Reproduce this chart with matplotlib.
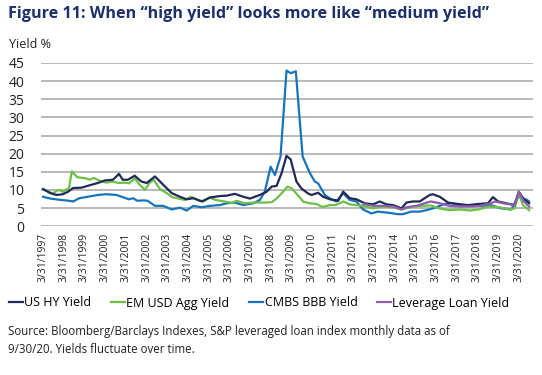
import matplotlib
matplotlib.use("Agg")
from matplotlib import pyplot as plt

plt.rcParams['font.family'] = ['Open Sans', 'DejaVu Sans']

# decimal-year positions and yields (%)
hy_x = [1997.25, 1997.6, 1997.9, 1998.2, 1998.46, 1998.7, 1999.1, 1999.58, 1999.9, 2000.23,
        2000.63, 2000.92, 2001.1, 2001.35, 2001.68, 2002.0, 2002.26, 2002.66, 2003.06, 2003.47,
        2003.87, 2004.19, 2004.51, 2004.92, 2005.32, 2005.8, 2006.12, 2006.52, 2006.93, 2007.25,
        2007.73, 2008.06, 2008.3, 2008.54, 2008.78, 2009.02, 2009.22, 2009.5, 2009.74, 2010.06,
        2010.23, 2010.55, 2010.79, 2011.11, 2011.36, 2011.52, 2011.76, 2012.08, 2012.4, 2012.8,
        2013.2, 2013.53, 2013.85, 2014.17, 2014.58, 2014.82, 2015.14, 2015.46, 2015.7, 2015.95,
        2016.1, 2016.43, 2016.83, 2017.31, 2017.8, 2018.28, 2018.76, 2019.0, 2019.25, 2019.65,
        2020.05, 2020.25, 2020.5, 2020.75]
hy_y = [10.2, 9.1, 8.6, 8.8, 9.5, 10.5, 10.6, 11.4, 11.9, 12.6,
        12.8, 14.4, 12.8, 12.8, 13.9, 12.3, 11.9, 13.7, 11.4, 9.1,
        8.1, 7.4, 7.7, 6.8, 7.9, 8.3, 8.4, 8.9, 8.1, 7.6,
        8.6, 9.5, 10.9, 11.1, 14.6, 19.4, 18.4, 12.3, 10.4, 9.0,
        8.6, 9.2, 8.1, 7.4, 7.2, 7.0, 9.5, 7.7, 7.4, 6.3,
        6.0, 6.8, 6.0, 5.8, 4.9, 6.5, 6.8, 6.8, 7.7, 8.6,
        8.8, 8.1, 6.5, 6.1, 5.8, 6.1, 6.3, 8.0, 6.8, 6.3,
        5.8, 9.5, 7.4, 6.3]

em_x = [1997.25, 1997.7, 1998.0, 1998.2, 1998.5, 1998.64, 1998.9, 1999.3, 1999.5, 1999.7,
        2000.0, 2000.3, 2000.6, 2000.9, 2001.2, 2001.4, 2001.69, 2001.9, 2002.18, 2002.4,
        2002.6, 2002.9, 2003.2, 2003.5, 2003.8, 2004.1, 2004.4, 2004.7, 2005.0, 2005.3,
        2005.6, 2006.0, 2006.4, 2006.6, 2007.0, 2007.5, 2008.0, 2008.3, 2008.54, 2008.86,
        2009.06, 2009.27, 2009.6, 2009.84, 2010.15, 2010.47, 2010.76, 2011.11, 2011.4, 2011.76,
        2012.08, 2012.72, 2013.2, 2013.69, 2014.17, 2014.58, 2015.14, 2015.6, 2016.0, 2016.4,
        2016.9, 2017.4, 2017.9, 2018.3, 2018.8, 2019.3, 2019.8, 2020.05, 2020.25, 2020.45,
        2020.75]
em_y = [10.2, 9.0, 10.0, 9.5, 10.5, 15.1, 13.5, 13.2, 12.8, 13.3,
        12.5, 12.0, 12.3, 11.9, 12.0, 11.8, 13.2, 11.5, 10.0, 12.0,
        12.8, 10.2, 9.2, 8.0, 7.6, 7.2, 8.1, 7.3, 6.8, 7.9,
        7.2, 6.8, 6.4, 7.0, 6.3, 6.5, 6.5, 6.6, 7.6, 9.5,
        10.9, 10.4, 8.3, 6.7, 6.3, 6.1, 5.3, 5.8, 5.8, 6.8,
        6.0, 5.6, 4.9, 5.4, 5.2, 4.6, 5.4, 5.6, 5.7, 4.9,
        4.4, 4.6, 4.3, 4.6, 5.4, 5.2, 4.6, 4.9, 9.1, 5.8,
        4.4]

cmbs_x = [1997.25, 1997.6, 1998.0, 1998.5, 1998.7, 1999.0, 1999.4, 1999.9, 2000.3, 2000.8,
          2001.1, 2001.4, 2001.6, 2001.8, 2002.1, 2002.3, 2002.66, 2003.06, 2003.47, 2003.87,
          2004.19, 2004.51, 2004.92, 2005.32, 2005.8, 2006.12, 2006.52, 2006.93, 2007.41, 2007.73,
          2007.97, 2008.25, 2008.46, 2008.73, 2009.02, 2009.22, 2009.47, 2009.8, 2010.15, 2010.39,
          2010.55, 2010.87, 2011.19, 2011.43, 2011.76, 2012.08, 2012.4, 2012.72, 2013.12, 2013.44,
          2013.93, 2014.41, 2014.65, 2015.05, 2015.46, 2015.78, 2016.1, 2016.67, 2017.0, 2017.4,
          2017.9, 2018.5, 2018.9, 2019.4, 2019.9, 2020.2, 2020.4, 2020.6, 2020.75]
cmbs_y = [8.1, 7.6, 7.3, 7.0, 6.8, 7.7, 8.1, 8.6, 8.8, 8.6,
          8.0, 7.4, 7.7, 7.0, 7.1, 7.0, 5.6, 5.6, 4.6, 5.1,
          4.3, 5.6, 5.2, 5.6, 5.8, 6.3, 6.5, 5.8, 6.3, 7.2,
          9.5, 16.4, 14.1, 19.2, 42.9, 42.2, 42.7, 19.2, 14.6, 12.3,
          11.8, 8.6, 7.4, 6.8, 9.1, 7.2, 6.8, 4.6, 3.5, 4.0,
          3.7, 3.3, 3.3, 4.0, 4.0, 4.4, 4.9, 6.1, 6.3, 5.8,
          5.6, 5.6, 5.8, 4.9, 4.6, 8.1, 7.7, 7.4, 6.8]

loan_x = [2012.75, 2013.2, 2013.7, 2014.2, 2014.58, 2014.82, 2015.3, 2015.7, 2016.0, 2016.43,
          2016.9, 2017.4, 2017.9, 2018.4, 2018.9, 2019.1, 2019.5, 2020.05, 2020.25, 2020.5,
          2020.75]
loan_y = [6.1, 5.6, 5.6, 5.4, 4.6, 5.2, 5.6, 6.3, 6.8, 6.3,
          5.6, 5.4, 5.4, 5.6, 6.3, 6.8, 6.3, 5.8, 9.5, 6.8,
          5.4]

years = list(range(1997, 2021))
tick_labels = ["3/31/%d" % y for y in years]

fig = plt.figure(figsize=(5.42, 3.75), dpi=100)
ax = fig.add_axes([0.0757, 0.397, 0.907, 0.435])

ax.plot(hy_x, hy_y, color='#1f2a56', lw=1.6, label='US HY Yield', zorder=4)
ax.plot(em_x, em_y, color='#6cbf47', lw=1.6, label='EM USD Agg Yield', zorder=3)
ax.plot(cmbs_x, cmbs_y, color='#1874ba', lw=1.6, label='CMBS BBB Yield', zorder=2)
ax.plot(loan_x, loan_y, color='#8f5cad', lw=1.6, label='Leverage Loan Yield', zorder=5)

ax.set_xlim(1997.15, 2020.92)
ax.set_ylim(0, 45)
ax.set_yticks(range(0, 46, 5))
ax.set_xticks([y + 0.25 for y in years])
ax.set_xticklabels(tick_labels, rotation=90, fontsize=7.5, color='#222222')
ax.tick_params(axis='y', labelsize=10, colors='#222222', length=0, pad=12)
ax.tick_params(axis='x', length=0, pad=5)
ax.yaxis.grid(True, color='#a6a6a6', lw=1.1)
ax.set_axisbelow(True)
for s in ax.spines.values():
    s.set_visible(False)

fig.text(0.015, 0.962, 'Figure 11: When \u201chigh yield\u201d looks more like \u201cmedium yield\u201d',
         fontsize=11.6, fontweight='bold', color='#1c2f6b', va='center')
fig.text(0.017, 0.882, 'Yield %', fontsize=9, color='#222222', va='center')

fig.legend(loc='center left', bbox_to_anchor=(0.016, 0.192), ncol=4, frameon=False,
           fontsize=9.0, handlelength=1.15, handletextpad=0.1, columnspacing=1.55,
           borderaxespad=0, borderpad=0)

fig.text(0.015, 0.117, 'Source: Bloomberg/Barclays Indexes, S&P leveraged loan index monthly data as of',
         fontsize=8.3, color='#222222', va='center')
fig.text(0.015, 0.069, '9/30/20. Yields fluctuate over time.',
         fontsize=8.3, color='#222222', va='center')

fig.savefig('out.png', dpi=100)
